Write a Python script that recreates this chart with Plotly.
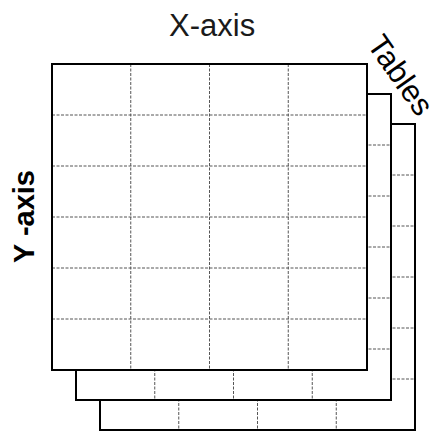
import plotly.graph_objects as go

# Diagram structure
n_tables = 3
n_cols = 4
n_rows = 6
col_labels = ["X-axis"]
row_label = "Y -axis"
stack_label = "Tables"

# Geometry (pixel-like data units)
front_left, front_top = 52, 64
cell_w, cell_h = 78.75, 51
offset_x, offset_y = 24, 30

fig = go.Figure()
shapes = []
for t in reversed(range(n_tables)):
    x0 = front_left + t * offset_x
    y0 = front_top + t * offset_y
    x1 = x0 + n_cols * cell_w
    y1 = y0 + n_rows * cell_h
    shapes.append(dict(type="rect", x0=x0, y0=y0, x1=x1, y1=y1,
                       xref="x", yref="y", fillcolor="white",
                       line=dict(width=0), layer="above"))
    for c in range(1, n_cols):
        xc = x0 + c * cell_w
        shapes.append(dict(type="line", x0=xc, x1=xc, y0=y0, y1=y1,
                           xref="x", yref="y",
                           line=dict(color="#555555", width=1, dash="3px,1.5px"),
                           layer="above"))
    for r in range(1, n_rows):
        yr = y0 + r * cell_h
        shapes.append(dict(type="line", x0=x0, x1=x1, y0=yr, y1=yr,
                           xref="x", yref="y",
                           line=dict(color="#555555", width=1, dash="3px,1.5px"),
                           layer="above"))
    shapes.append(dict(type="rect", x0=x0, y0=y0, x1=x1, y1=y1,
                       xref="x", yref="y", fillcolor="rgba(0,0,0,0)",
                       line=dict(color="black", width=2), layer="above"))

fig.add_trace(go.Scatter(x=[0, 443], y=[0, 433], mode="markers",
                         marker=dict(opacity=0), hoverinfo="skip", showlegend=False))

front_right = front_left + n_cols * cell_w
front_bottom = front_top + n_rows * cell_h

annotations = [
    dict(text=col_labels[0], x=(front_left + front_right) / 2 + 2, y=25,
         xref="x", yref="y", showarrow=False,
         font=dict(family="Liberation Sans, Arial", size=31, color="#1a1a1a")),
    dict(text="<b>" + row_label + "</b>", x=24, y=(front_top + front_bottom) / 2,
         xref="x", yref="y", showarrow=False, textangle=-90,
         font=dict(family="Liberation Sans, Arial", size=29, color="black")),
    dict(text=stack_label, x=401, y=75, xref="x", yref="y", showarrow=False,
         textangle=55,
         font=dict(family="Liberation Sans, Arial", size=31, color="black")),
]

fig.update_layout(
    width=443, height=433,
    margin=dict(l=0, r=0, t=0, b=0),
    paper_bgcolor="white", plot_bgcolor="white",
    xaxis=dict(range=[0, 443], visible=False, fixedrange=True),
    yaxis=dict(range=[433, 0], visible=False, fixedrange=True),
    shapes=shapes, annotations=annotations, showlegend=False,
)
fig.write_html("out.html", config={"displayModeBar": False},
               post_script="document.body.style.margin='0';document.body.style.overflow='hidden';")
